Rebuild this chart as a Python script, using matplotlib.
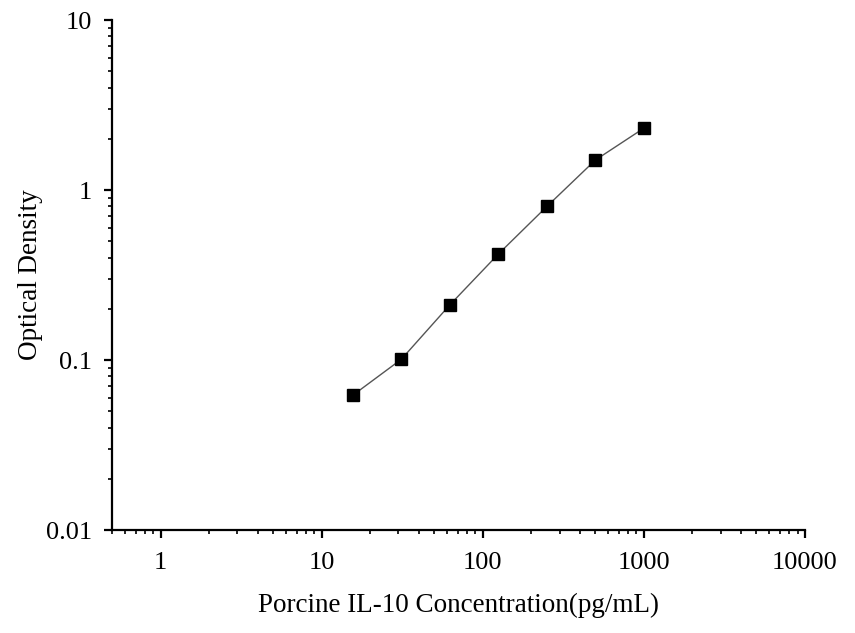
import matplotlib
matplotlib.use("Agg")
import matplotlib.pyplot as plt
from matplotlib.ticker import LogLocator, FixedLocator, FixedFormatter

concentration = [15.6, 31.25, 62.5, 125, 250, 500, 1000]
optical_density = [0.062, 0.101, 0.211, 0.42, 0.80, 1.50, 2.31]
x_ticks = [1, 10, 100, 1000, 10000]
x_tick_labels = ["1", "10", "100", "1000", "10000"]
y_ticks = [0.01, 0.1, 1, 10]
y_tick_labels = ["0.01", "0.1", "1", "10"]

plt.rcParams['font.family'] = ['Liberation Serif', 'DejaVu Serif']
fig = plt.figure(figsize=(8.55, 6.33), dpi=100)
ax = fig.add_axes([0.131, 0.1627, 0.8105, 0.8057])
ax.plot(concentration, optical_density, color='#555555', lw=1.0, marker='s',
        markersize=8, markerfacecolor='black', markeredgecolor='black')
ax.set_xscale('log')
ax.set_yscale('log')
ax.set_xlim(0.5, 10000)
ax.set_ylim(0.01, 10)
ax.xaxis.set_major_locator(FixedLocator(x_ticks))
ax.xaxis.set_major_formatter(FixedFormatter(x_tick_labels))
ax.yaxis.set_major_locator(FixedLocator(y_ticks))
ax.yaxis.set_major_formatter(FixedFormatter(y_tick_labels))
ax.xaxis.set_minor_locator(LogLocator(base=10, subs=range(2, 10), numticks=20))
ax.yaxis.set_minor_locator(LogLocator(base=10, subs=range(2, 10), numticks=20))
ax.spines['top'].set_visible(False)
ax.spines['right'].set_visible(False)
for s in ['left', 'bottom']:
    ax.spines[s].set_linewidth(1.6)
ax.tick_params(which='major', direction='out', length=5.5, width=1.6, labelsize=19)
ax.tick_params(axis='x', which='major', pad=10)
ax.tick_params(axis='y', which='major', pad=9)
ax.tick_params(which='minor', direction='out', length=3, width=1.2)
ax.set_xlabel('Porcine IL-10 Concentration(pg/mL)', fontsize=19.5, labelpad=14)
ax.set_ylabel('Optical Density', fontsize=19.5, labelpad=2)
fig.savefig('out.png', dpi=100)
